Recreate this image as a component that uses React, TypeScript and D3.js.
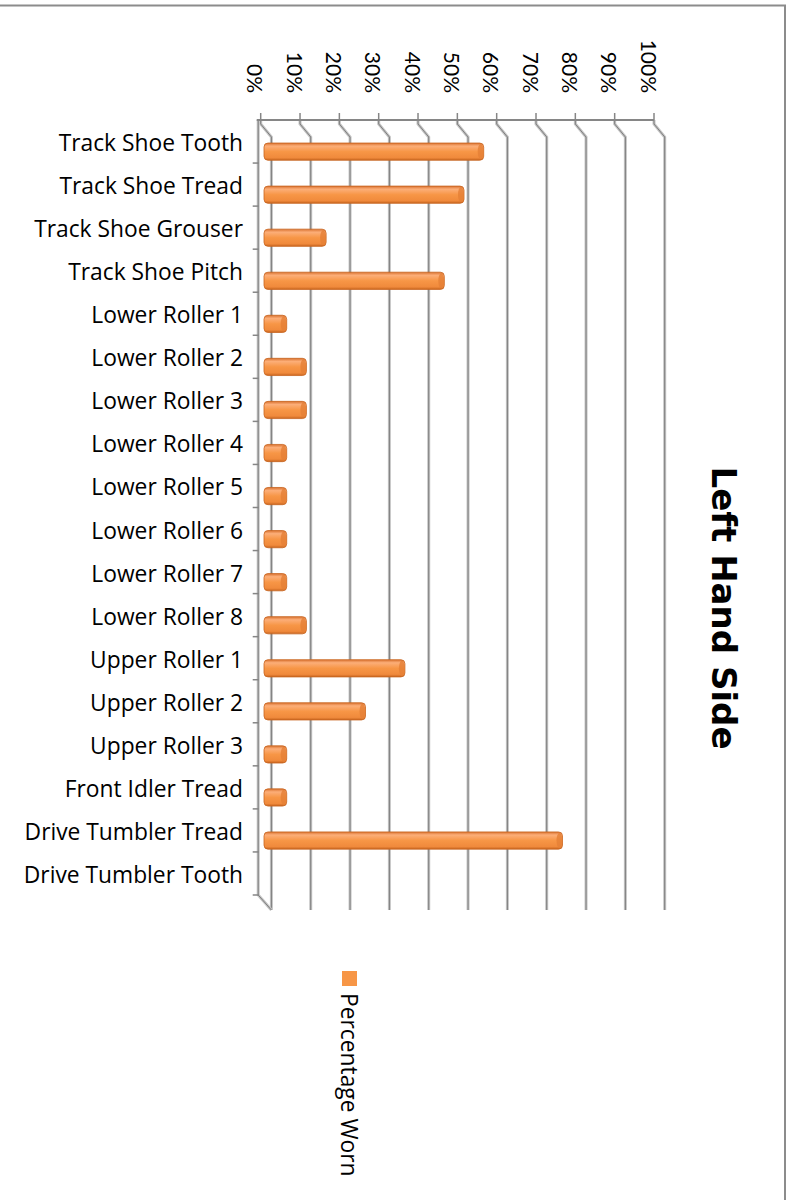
import React, { useEffect, useRef } from 'react';
import * as d3 from 'd3';

const categories = [
  'Track Shoe Tooth', 'Track Shoe Tread', 'Track Shoe Grouser', 'Track Shoe Pitch',
  'Lower Roller 1', 'Lower Roller 2', 'Lower Roller 3', 'Lower Roller 4',
  'Lower Roller 5', 'Lower Roller 6', 'Lower Roller 7', 'Lower Roller 8',
  'Upper Roller 1', 'Upper Roller 2', 'Upper Roller 3', 'Front Idler Tread',
  'Drive Tumbler Tread', 'Drive Tumbler Tooth'
];
const worn = [0.55, 0.5, 0.15, 0.45, 0.05, 0.1, 0.1, 0.05, 0.05, 0.05, 0.05, 0.1, 0.35, 0.25, 0.05, 0.05, 0.75, 0];
const ticks = [0, 0.1, 0.2, 0.3, 0.4, 0.5, 0.6, 0.7, 0.8, 0.9, 1];
const seriesName = 'Percentage Worn';
const title = 'Left Hand Side';

const FONT = 'Lato, "Liberation Sans", sans-serif';
const LABEL_FONT = '"Open Sans", Lato, sans-serif';

const Chart = () => {
  const ref = useRef(null);

  useEffect(() => {
    if (!ref.current) return;
    const svg = d3.select(ref.current);
    svg.selectAll('*').remove();

    // 3D depth offset of the back wall
    const depth = { x: 10.7, y: 13 };
    const top = 120, bottom = 895;

    const xFront = d3.scaleLinear().domain([0, 1]).range([260.7, 654]);
    const xBar = d3.scaleLinear().domain([0, 1]).range([265, 659]);
    const y = d3.scaleBand().domain(categories).range([top, bottom]).padding(0);

    const defs = svg.append('defs');
    const grad = defs.append('linearGradient').attr('id', 'barGrad')
      .attr('x1', 0).attr('y1', 0).attr('x2', 0).attr('y2', 1);
    [['0', '#d97230'], ['0.18', '#fcae78'], ['0.5', '#f79646'], ['0.85', '#f08a3c'], ['1', '#c8651f']]
      .forEach(([o, c]) => grad.append('stop').attr('offset', o).attr('stop-color', c));

    // frame
    svg.append('rect')
      .attr('x', -10).attr('y', 5.5).attr('width', 795).attr('height', 1210)
      .attr('fill', 'none').attr('stroke', '#8c8c8c').attr('stroke-width', 2);

    const g = svg.append('g');

    // gridlines: front axis tick -> diagonal -> back wall
    const grid = (v: number) => {
      const x = xFront(v);
      return `M${x},${top}L${x},${top + 4}L${x + depth.x},${top + depth.y + 4}L${x + depth.x},${bottom + depth.y + 2}`;
    };
    g.selectAll('.grid-soft').data(ticks).enter().append('path')
      .attr('d', grid).attr('fill', 'none').attr('stroke', '#c4c4c4').attr('stroke-width', 3);
    g.selectAll('.grid').data(ticks).enter().append('path')
      .attr('d', grid).attr('fill', 'none').attr('stroke', '#7d7d7d').attr('stroke-width', 1);

    // left wall
    const wall = `M${xFront(0) - 2.5},${top}L${xFront(0) - 2.5},${bottom}L${xFront(0) + depth.x},${bottom + depth.y + 2}`;
    g.append('path').attr('d', wall).attr('fill', 'none').attr('stroke', '#c4c4c4').attr('stroke-width', 3);
    g.append('path').attr('d', wall).attr('fill', 'none').attr('stroke', '#7d7d7d').attr('stroke-width', 1);

    // front value axis
    g.append('line')
      .attr('x1', xFront(0) - 4).attr('x2', xFront(1))
      .attr('y1', top).attr('y2', top)
      .attr('stroke', '#868686').attr('stroke-width', 1.8);
    g.selectAll('.vtick').data(ticks).enter().append('line')
      .attr('x1', d => xFront(d)).attr('x2', d => xFront(d))
      .attr('y1', top - 7).attr('y2', top)
      .attr('stroke', '#868686').attr('stroke-width', 1.5);

    // category ticks
    g.selectAll('.ctick').data(categories).enter().append('line')
      .attr('x1', xFront(0) - 8).attr('x2', xFront(0) - 2)
      .attr('y1', d => (y(d) as number) + y.bandwidth())
      .attr('y2', d => (y(d) as number) + y.bandwidth())
      .attr('stroke', '#868686').attr('stroke-width', 1.5);

    // tick labels
    g.selectAll('.vlabel').data(ticks).enter().append('text')
      .attr('transform', d => `translate(${xFront(d) - 5},93) rotate(90)`)
      .attr('text-anchor', 'end')
      .attr('dominant-baseline', 'central')
      .attr('font-family', FONT).attr('font-size', 21).attr('fill', '#000')
      .text(d => d3.format('.0%')(d));

    // category labels
    g.selectAll('.clabel').data(categories).enter().append('text')
      .attr('x', 243)
      .attr('y', d => (y(d) as number) + y.bandwidth() / 2 + 9.5)
      .attr('text-anchor', 'end')
      .attr('font-family', LABEL_FONT).attr('font-size', 22.8).attr('fill', '#000')
      .text(d => d);

    // bars
    const bh = y.bandwidth() * 0.4;
    const bars = g.selectAll('.bar').data(categories.map((c, i) => ({ c, v: worn[i] })).filter(d => d.v > 0))
      .enter().append('g');
    bars.append('rect')
      .attr('x', xBar(0) - 1)
      .attr('y', d => (y(d.c) as number) + y.bandwidth() * 0.535)
      .attr('width', d => xBar(d.v) - xBar(0) + 3)
      .attr('height', bh)
      .attr('rx', 4).attr('ry', 4)
      .attr('fill', 'url(#barGrad)')
      .attr('stroke', '#c8651f').attr('stroke-width', 0.8);
    bars.append('ellipse')
      .attr('cx', d => xBar(d.v) - 1)
      .attr('cy', d => (y(d.c) as number) + y.bandwidth() * 0.535 + bh / 2)
      .attr('rx', 3).attr('ry', bh / 2 - 1)
      .attr('fill', '#e57f36').attr('opacity', 0.8);

    // title
    svg.append('text')
      .attr('transform', 'translate(724,608) rotate(90)')
      .attr('text-anchor', 'middle').attr('dominant-baseline', 'central')
      .attr('font-family', '"DejaVu Sans", sans-serif').attr('font-size', 34).attr('font-weight', 'bold')
      .text(title);

    // legend
    svg.append('rect')
      .attr('x', 342).attr('y', 971).attr('width', 15).attr('height', 15)
      .attr('fill', '#f79646');
    svg.append('text')
      .attr('transform', 'translate(349,993) rotate(90)')
      .attr('text-anchor', 'start').attr('dominant-baseline', 'central')
      .attr('font-family', LABEL_FONT).attr('font-size', 22.8)
      .text(seriesName);
  }, []);

  return (
    <svg ref={ref} width={790} height={1200}
      style={{ position: 'absolute', left: 0, top: 0, background: '#fff' }} />
  );
};

export default function App() {
  return <Chart />;
}
